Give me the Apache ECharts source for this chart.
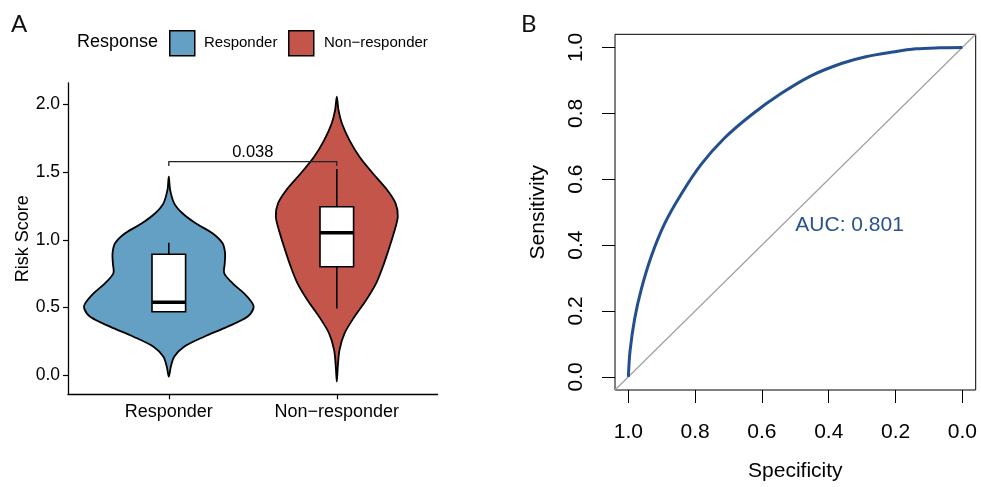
<!DOCTYPE html>
<html>
<head>
<meta charset="utf-8">
<script src="https://cdn.jsdelivr.net/npm/echarts@6/dist/echarts.min.js"></script>
<style>
html, body { margin: 0; padding: 0; background: #fff; }
#main { width: 981px; height: 487px; }
</style>
</head>
<body>
<div id="main"></div>
<script>
// panel A: risk score by response group
var groups = ['Responder', 'Non\u2212responder'];
var groupColors = ['#64a0c3', '#c4554a'];

// violin outline, bottom to top: risk score and half width (in x units)
var respY = [-0.01, 0.063, 0.137, 0.211, 0.285, 0.359, 0.432, 0.494, 0.531, 0.605, 0.679, 0.753, 0.827, 0.900, 0.974, 1.048, 1.122, 1.196, 1.269, 1.368, 1.466];
var respW = [0, 0.012, 0.032, 0.091, 0.21, 0.35, 0.468, 0.504, 0.498, 0.448, 0.38, 0.33, 0.333, 0.335, 0.32, 0.26, 0.16, 0.081, 0.032, 0.008, 0];
var nonY = [-0.047, 0.063, 0.187, 0.310, 0.432, 0.556, 0.679, 0.801, 0.925, 1.048, 1.170, 1.269, 1.368, 1.491, 1.613, 1.736, 1.860, 1.958, 2.056];
var nonW = [0, 0.006, 0.016, 0.046, 0.105, 0.175, 0.234, 0.274, 0.308, 0.339, 0.363, 0.35, 0.30, 0.214, 0.135, 0.075, 0.03, 0.01, 0];

// box stats: lower whisker, q1, median, q3, upper whisker
var respBox = [0.469, 0.469, 0.539, 0.893, 0.979];
var nonBox = [0.494, 0.801, 1.052, 1.244, 1.523];

var pValue = '0.038';
var bracket = [[1, 1.545], [1, 1.577], [2, 1.577], [2, 1.545]];
var riskTicks = [0, 0.5, 1, 1.5, 2];

// panel B: ROC curve
var specificity = [1.0, 0.995, 0.981, 0.961, 0.931, 0.891, 0.841, 0.782, 0.712, 0.632, 0.543, 0.453, 0.36, 0.289, 0.21, 0.139, 0.07, 0.0];
var sensitivity = [0.0, 0.078, 0.177, 0.267, 0.367, 0.466, 0.556, 0.645, 0.725, 0.795, 0.860, 0.914, 0.952, 0.972, 0.986, 0.996, 0.999, 1.0];
var rocTicks = [0, 0.2, 0.4, 0.6, 0.8, 1];
var aucText = 'AUC: 0.801';

var font = '"Liberation Sans", Arial, Helvetica, sans-serif';

function violinItem(params, api) {
    var i = params.dataIndex;
    var ys = i === 0 ? respY : nonY;
    var ws = i === 0 ? respW : nonW;
    var cx = i + 1;
    var pts = [];
    for (var k = 0; k < ys.length; k++) {
        pts.push(api.coord([cx - ws[k], ys[k]]));
    }
    for (var k = ys.length - 2; k >= 1; k--) {
        pts.push(api.coord([cx + ws[k], ys[k]]));
    }
    return {
        type: 'polygon',
        shape: { points: pts, smooth: 0.3 },
        style: { fill: groupColors[i], stroke: '#000', lineWidth: 1.8 }
    };
}

function boxItem(params, api) {
    var i = params.dataIndex;
    var b = i === 0 ? respBox : nonBox;
    var cx = i + 1, hw = 0.1;
    var lo = api.coord([cx, b[0]]);
    var q1 = api.coord([cx - hw, b[1]]);
    var q3 = api.coord([cx + hw, b[3]]);
    var med = api.coord([cx, b[2]]);
    var hi = api.coord([cx, b[4]]);
    var x = lo[0];
    return {
        type: 'group',
        children: [
            { type: 'line', shape: { x1: x, y1: hi[1], x2: x, y2: q3[1] }, style: { stroke: '#000', lineWidth: 1.6 } },
            { type: 'line', shape: { x1: x, y1: lo[1], x2: x, y2: q1[1] }, style: { stroke: '#000', lineWidth: 1.6 } },
            { type: 'rect', shape: { x: q1[0], y: q3[1], width: q3[0] - q1[0], height: q1[1] - q3[1] },
              style: { fill: '#fff', stroke: '#000', lineWidth: 1.6 } },
            { type: 'line', shape: { x1: q1[0], y1: med[1], x2: q3[0], y2: med[1] }, style: { stroke: '#000', lineWidth: 3.5 } }
        ]
    };
}

var myChart = echarts.init(document.getElementById('main'));
var option = {
    animation: false,
    backgroundColor: '#fff',
    textStyle: { fontFamily: font },
    grid: [
        { left: 68, top: 83, width: 369.6, height: 311.3 },
        { left: 615, top: 34.3, width: 360.7, height: 361.7, show: true, borderColor: '#000', borderWidth: 1 }
    ],
    xAxis: [
        {
            type: 'value', gridIndex: 0, min: 0.4, max: 2.6,
            splitLine: { show: false },
            axisLine: { onZero: false, lineStyle: { color: '#000', width: 1.3 } },
            axisTick: { customValues: [1, 2], length: 5, lineStyle: { color: '#000', width: 1.2 } },
            axisLabel: {
                customValues: [1, 2], margin: 9, fontSize: 18, color: '#000',
                formatter: function (v) { return groups[Math.round(v) - 1]; }
            }
        },
        {
            type: 'value', gridIndex: 1, min: -0.04, max: 1.04, inverse: true,
            splitLine: { show: false },
            axisLine: { show: false, onZero: false },
            axisTick: { customValues: rocTicks, length: 13, lineStyle: { color: '#000', width: 1 } },
            axisLabel: {
                customValues: rocTicks, margin: 32, fontSize: 21, color: '#000',
                formatter: function (v) { return v.toFixed(1); }
            },
            name: 'Specificity', nameLocation: 'middle', nameGap: 71,
            nameTextStyle: { fontSize: 21, color: '#000' }
        }
    ],
    yAxis: [
        {
            type: 'value', gridIndex: 0, min: -0.14, max: 2.157,
            splitLine: { show: false },
            axisLine: { show: true, onZero: false, lineStyle: { color: '#000', width: 1.3 } },
            axisTick: { show: true, customValues: riskTicks, length: 5, lineStyle: { color: '#000', width: 1.2 } },
            axisLabel: {
                customValues: riskTicks, margin: 8, fontSize: 17.5, color: '#000',
                formatter: function (v) { return v.toFixed(1); }
            },
            name: 'Risk Score', nameLocation: 'middle', nameGap: 32,
            nameTextStyle: { fontSize: 18, color: '#000' }
        },
        {
            type: 'value', gridIndex: 1, min: -0.04, max: 1.04,
            splitLine: { show: false },
            axisLine: { show: false, onZero: false },
            axisTick: { show: true, customValues: rocTicks, length: 13, lineStyle: { color: '#000', width: 1 } },
            axisLabel: {
                customValues: rocTicks, margin: 28, fontSize: 21, color: '#000', rotate: 90,
                formatter: function (v) { return v.toFixed(1); }
            },
            name: 'Sensitivity', nameLocation: 'middle', nameGap: 66, nameRotate: 90,
            nameTextStyle: { fontSize: 21, color: '#000' }
        }
    ],
    series: [
        {
            type: 'custom', name: 'violin', xAxisIndex: 0, yAxisIndex: 0,
            renderItem: violinItem, data: [[1, 0], [2, 0]], z: 2
        },
        {
            type: 'custom', name: 'box', xAxisIndex: 0, yAxisIndex: 0,
            renderItem: boxItem, data: [[1, 0], [2, 0]], z: 3
        },
        {
            type: 'line', name: 'bracket', xAxisIndex: 0, yAxisIndex: 0,
            data: bracket, symbol: 'none', z: 4,
            lineStyle: { color: '#222', width: 1.3 }
        },
        {
            type: 'scatter', name: 'p', xAxisIndex: 0, yAxisIndex: 0,
            data: [[1.5, bracket[1][1]]], symbolSize: 0, z: 4,
            itemStyle: { color: 'transparent', opacity: 1 },
            label: { show: true, formatter: pValue, position: 'top', distance: 1, fontSize: 16.5, color: '#000' }
        },
        {
            type: 'line', name: 'diag', xAxisIndex: 1, yAxisIndex: 1,
            data: [[1.04, -0.04], [-0.04, 1.04]], symbol: 'none',
            lineStyle: { color: '#a0a0a0', width: 1.2 }
        },
        {
            type: 'line', name: 'roc', xAxisIndex: 1, yAxisIndex: 1,
            data: specificity.map(function (s, i) { return [s, sensitivity[i]]; }),
            symbol: 'none', smooth: 0.3,
            lineStyle: { color: '#234f8e', width: 3 }
        },
        {
            type: 'scatter', name: 'auc', xAxisIndex: 1, yAxisIndex: 1,
            data: [[0.5, 0.5]], symbolSize: 0, itemStyle: { color: 'transparent', opacity: 1 },
            label: { show: true, formatter: aucText, position: [0, 0], offset: [0, 3],
                     align: 'left', verticalAlign: 'top', fontSize: 21, color: '#2a5291' }
        }
    ],
    graphic: [
        { type: 'text', left: 11, top: 12, style: { text: 'A', fontSize: 24, fontFamily: 'Lato, sans-serif', fill: '#111' } },
        { type: 'text', left: 521, top: 12, style: { text: 'B', fontSize: 24, fontFamily: 'Lato, sans-serif', fill: '#111' } },
        { type: 'text', left: 77, top: 33, style: { text: 'Response', fontSize: 18, fontFamily: font, fill: '#000' } },
        { type: 'rect', left: 169, top: 30, shape: { width: 25, height: 25 },
          style: { fill: groupColors[0], stroke: '#000', lineWidth: 1.5 } },
        { type: 'text', left: 204, top: 35, style: { text: groups[0], fontSize: 15, fontFamily: font, fill: '#000' } },
        { type: 'rect', left: 288, top: 30, shape: { width: 25, height: 25 },
          style: { fill: groupColors[1], stroke: '#000', lineWidth: 1.5 } },
        { type: 'text', left: 324, top: 35, style: { text: groups[1], fontSize: 15, fontFamily: font, fill: '#000' } }
    ]
};
myChart.setOption(option);
</script>
</body>
</html>
